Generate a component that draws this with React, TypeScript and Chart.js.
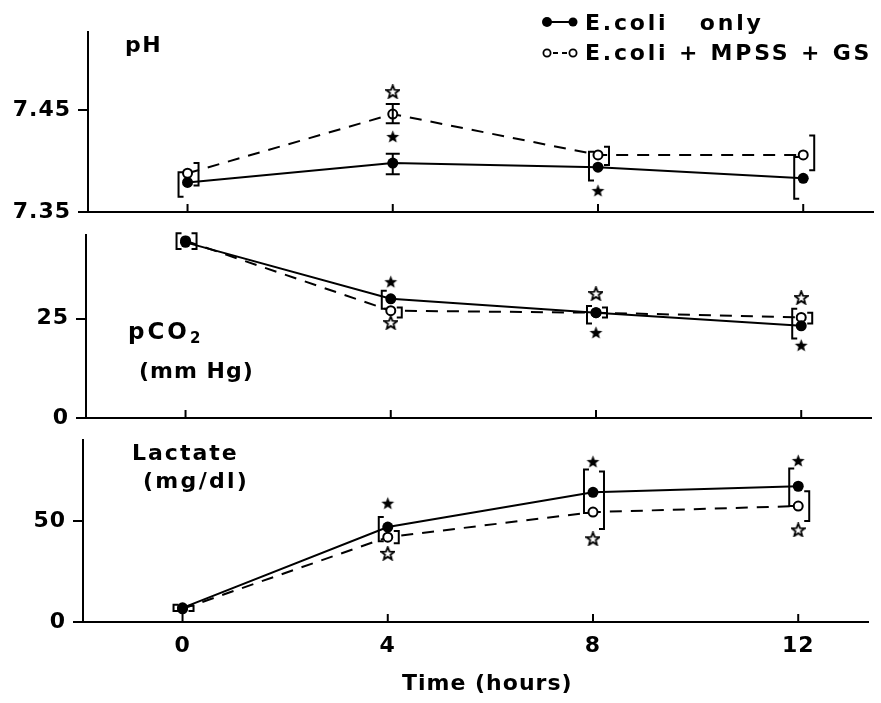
import { useEffect, useRef } from 'react';
import { Chart, registerables } from 'chart.js';

Chart.register(...registerables);

// ---------- data ----------
const hours = [0, 4, 8, 12];
const xTickValues = [0, 4, 8, 12];

const phTicks = [7.35, 7.45];
const phEcoli = [7.379, 7.398, 7.394, 7.383];
const phMpss = [7.388, 7.446, 7.406, 7.406];
const phEcoliLow = [7.365, 7.387, 7.381, 7.363];
const phEcoliHigh = [7.389, 7.407, 7.409, 7.404];
const phMpssLow = [7.376, 7.437, 7.396, 7.391];
const phMpssHigh = [7.398, 7.456, 7.414, 7.425];
const phStarEcoli = [null, 7.424, 7.371, null];
const phStarMpss = [null, 7.468, null, null];

const pco2Ticks = [0, 25];
const pco2Ecoli = [44.2, 30, 26.5, 23.2];
const pco2Mpss = [44.6, 27, 26.5, 25.3];
const pco2EcoliLow = [42.5, 27.5, 23.8, 20];
const pco2EcoliHigh = [46.5, 32, 28.2, 27.5];
const pco2MpssLow = [42.5, 25.3, 25.3, 23.8];
const pco2MpssHigh = [46.5, 27.8, 27.8, 26.5];
const pco2StarEcoli = [null, 34.3, 21.5, 18.3];
const pco2StarMpss = [null, 24, 31.3, 30.3];

const lacTicks = [0, 50];
const lacEcoli = [7, 47, 64.2, 67.2];
const lacMpss = [6.5, 42, 54.4, 57.4];
const lacEcoliLow = [5.5, 40, 54, 57.4];
const lacEcoliHigh = [8.5, 52, 75.5, 76];
const lacMpssLow = [5.5, 39, 46, 50];
const lacMpssHigh = [8, 45, 74.5, 64.7];
const lacStarEcoli = [null, 58.8, 79.4, 79.9];
const lacStarMpss = [null, 34, 41.2, 45.6];

// ---------- helpers ----------
const FONT = "'DejaVu Sans', sans-serif";

function makeStar(filled: boolean) {
  const c = document.createElement('canvas');
  c.width = 15;
  c.height = 15;
  const g = c.getContext('2d')!;
  g.beginPath();
  for (let i = 0; i < 10; i++) {
    const r = i % 2 === 0 ? 6.8 : 2.9;
    const a = -Math.PI / 2 + (i * Math.PI) / 5;
    const px = 7.5 + r * Math.cos(a);
    const py = 8 + r * Math.sin(a);
    if (i === 0) g.moveTo(px, py);
    else g.lineTo(px, py);
  }
  g.closePath();
  if (filled) {
    g.fillStyle = '#000';
    g.fill();
  } else {
    g.fillStyle = '#fff';
    g.fill();
    g.strokeStyle = '#000';
    g.lineWidth = 1.8;
    g.stroke();
  }
  return c;
}

const toPoints = (vals: (number | null)[]) =>
  hours
    .map((h, i) => ({ x: h, y: vals[i] }))
    .filter((p) => p.y !== null && p.y !== undefined);

const spacingPlugin = {
  id: 'spacing',
  beforeDraw(chart: any) {
    (chart.ctx as any).letterSpacing = '1px';
  },
};

const bracketPlugin = {
  id: 'brackets',
  afterDatasetsDraw(chart: any, _args: any, opts: any) {
    const { ctx } = chart;
    const x = chart.scales.x;
    const y = chart.scales.y;
    ctx.save();
    ctx.strokeStyle = '#000';
    ctx.lineWidth = 2;
    ctx.setLineDash([]);
    const draw = (lows: number[], highs: number[], side: number) => {
      hours.forEach((h, i) => {
        const lo = lows[i];
        const hi = highs[i];
        if (lo == null || hi == null) return;
        const px = x.getPixelForValue(h);
        const yl = y.getPixelForValue(lo);
        const yh = y.getPixelForValue(hi);
        ctx.beginPath();
        if (opts.caps.includes(i)) {
          ctx.moveTo(px, yl);
          ctx.lineTo(px, yh);
          ctx.moveTo(px - 7, yl);
          ctx.lineTo(px + 7, yl);
          ctx.moveTo(px - 7, yh);
          ctx.lineTo(px + 7, yh);
        } else {
          const bx = px + (side < 0 ? -9 : 11);
          const s = -side * 5;
          ctx.moveTo(bx + s, yh);
          ctx.lineTo(bx, yh);
          ctx.lineTo(bx, yl);
          ctx.lineTo(bx + s, yl);
        }
        ctx.stroke();
      });
    };
    draw(opts.aLow, opts.aHigh, -1);
    draw(opts.bLow, opts.bHigh, 1);
    xTickValues.forEach((v) => {
      const px = x.getPixelForValue(v);
      ctx.beginPath();
      ctx.moveTo(px, y.bottom);
      ctx.lineTo(px, y.bottom - 8);
      ctx.stroke();
    });
    if (opts.legend) {
      ctx.fillStyle = '#000';
      ctx.beginPath();
      ctx.arc(547, 22, 5, 0, Math.PI * 2);
      ctx.fill();
      ctx.beginPath();
      ctx.arc(573, 22, 4.5, 0, Math.PI * 2);
      ctx.fill();
      ctx.beginPath();
      ctx.moveTo(550, 22);
      ctx.lineTo(570, 22);
      ctx.stroke();
      ctx.lineWidth = 1.8;
      ctx.beginPath();
      ctx.arc(547, 53, 3.6, 0, Math.PI * 2);
      ctx.stroke();
      ctx.beginPath();
      ctx.arc(573, 53, 3.6, 0, Math.PI * 2);
      ctx.stroke();
      ctx.lineWidth = 2;
      ctx.beginPath();
      ctx.moveTo(553, 53);
      ctx.lineTo(558, 53);
      ctx.moveTo(562, 53);
      ctx.lineTo(567, 53);
      ctx.stroke();
    }
    ctx.restore();
  },
};

type PanelSpec = {
  left: number;
  top: number;
  height: number;
  padTop: number;
  xH: number;
  yMin: number;
  yMax: number;
  ticks: number[];
  digits: number;
  a: number[];
  b: number[];
  aLow: number[];
  aHigh: number[];
  bLow: number[];
  bHigh: number[];
  starA: (number | null)[];
  starB: (number | null)[];
  caps: number[];
  showX: boolean;
  legend: boolean;
};

const panels: PanelSpec[] = [
  {
    left: 0, top: 0, height: 245, padTop: 32, xH: 33,
    yMin: 7.35, yMax: 7.5265, ticks: phTicks, digits: 2,
    a: phEcoli, b: phMpss, aLow: phEcoliLow, aHigh: phEcoliHigh, bLow: phMpssLow, bHigh: phMpssHigh,
    starA: phStarEcoli, starB: phStarMpss, caps: [1], showX: false, legend: true,
  },
  {
    left: -2, top: 215, height: 230, padTop: 19, xH: 27,
    yMin: 0, yMax: 46, ticks: pco2Ticks, digits: 0,
    a: pco2Ecoli, b: pco2Mpss, aLow: pco2EcoliLow, aHigh: pco2EcoliHigh, bLow: pco2MpssLow, bHigh: pco2MpssHigh,
    starA: pco2StarEcoli, starB: pco2StarMpss, caps: [], showX: false, legend: false,
  },
  {
    left: -5, top: 420, height: 283, padTop: 18, xH: 81,
    yMin: 0, yMax: 90, ticks: lacTicks, digits: 0,
    a: lacEcoli, b: lacMpss, aLow: lacEcoliLow, aHigh: lacEcoliHigh, bLow: lacMpssLow, bHigh: lacMpssHigh,
    starA: lacStarEcoli, starB: lacStarMpss, caps: [], showX: true, legend: false,
  },
];

function buildChart(canvas: HTMLCanvasElement, p: PanelSpec) {
  const starFilled = makeStar(true);
  const starOpen = makeStar(false);
  const tickFont = { family: FONT, size: 22, weight: 'bold' as const };
  return new Chart(canvas, {
    type: 'line',
    data: {
      datasets: [
        {
          data: toPoints(p.a) as any,
          borderColor: '#000',
          borderWidth: 2,
          pointRadius: 5.5,
          pointBackgroundColor: '#000',
          pointBorderColor: '#000',
          pointBorderWidth: 0,
          tension: 0,
        },
        {
          data: toPoints(p.b) as any,
          borderColor: '#000',
          borderWidth: 2,
          borderDash: [12, 9],
          pointRadius: 4.5,
          pointBackgroundColor: '#fff',
          pointBorderColor: '#000',
          pointBorderWidth: 2,
          tension: 0,
        },
        {
          data: toPoints(p.starA) as any,
          showLine: false,
          pointStyle: starFilled as any,
          pointRadius: 7,
        },
        {
          data: toPoints(p.starB) as any,
          showLine: false,
          pointStyle: starOpen as any,
          pointRadius: 7,
        },
      ],
    },
    options: {
      animation: false,
      responsive: false,
      maintainAspectRatio: false,
      layout: { padding: { top: p.padTop, right: 5, left: 0, bottom: 0 } },
      plugins: {
        legend: { display: false },
        tooltip: { enabled: false },
        brackets: {
          aLow: p.aLow, aHigh: p.aHigh, bLow: p.bLow, bHigh: p.bHigh,
          caps: p.caps, legend: p.legend,
        },
      } as any,
      scales: {
        x: {
          type: 'linear',
          min: -1.94,
          max: 13.36,
          grid: { display: false, drawTicks: false },
          border: { display: true, color: '#000', width: 2 },
          ticks: {
            display: p.showX,
            color: '#000',
            font: tickFont,
            padding: 11,
            callback: (v: any) => String(v),
          },
          afterBuildTicks: (s: any) => {
            s.ticks = xTickValues.map((v) => ({ value: v }));
          },
          afterFit: (s: any) => {
            s.height = p.xH;
          },
        },
        y: {
          type: 'linear',
          min: p.yMin,
          max: p.yMax,
          grid: {
            drawOnChartArea: false,
            drawTicks: true,
            tickLength: 10,
            color: '#000',
            lineWidth: 2,
          },
          border: { display: true, color: '#000', width: 2 },
          ticks: {
            color: '#000',
            font: tickFont,
            padding: 7,
            callback: (v: any) => Number(v).toFixed(p.digits),
          },
          afterBuildTicks: (s: any) => {
            s.ticks = p.ticks.map((v) => ({ value: v }));
          },
          afterFit: (s: any) => {
            s.width = 88;
          },
        },
      },
    },
    plugins: [spacingPlugin, bracketPlugin],
  });
}

const textBase: React.CSSProperties = {
  position: 'absolute',
  fontFamily: FONT,
  fontWeight: 'bold',
  color: '#000',
  whiteSpace: 'pre',
  lineHeight: 1,
};

export default function App() {
  const r0 = useRef<HTMLCanvasElement>(null);
  const r1 = useRef<HTMLCanvasElement>(null);
  const r2 = useRef<HTMLCanvasElement>(null);
  const refs = [r0, r1, r2];

  useEffect(() => {
    const charts = panels.map((p, i) => buildChart(refs[i].current!, p));
    return () => charts.forEach((c) => c.destroy());
  }, []);

  return (
    <div style={{ position: 'absolute', left: 0, top: 0, width: 881, height: 703, background: '#fff', overflow: 'hidden' }}>
      {panels.map((p, i) => (
        <canvas
          key={i}
          ref={refs[i]}
          width={881}
          height={p.height}
          style={{ position: 'absolute', left: p.left, top: p.top, width: 881, height: p.height, display: 'block' }}
        />
      ))}
      <div style={{ ...textBase, left: 585, top: 12, fontSize: 22, letterSpacing: '2.8px' }}>{'E.coli   only'}</div>
      <div style={{ ...textBase, left: 585, top: 42, fontSize: 22, letterSpacing: '2.8px' }}>{'E.coli + MPSS + GS'}</div>
      <div style={{ ...textBase, left: 125, top: 34, fontSize: 22, letterSpacing: '1.5px' }}>pH</div>
      <div style={{ ...textBase, left: 128, top: 320, fontSize: 23, letterSpacing: '3px' }}>
        pCO<span style={{ fontSize: 15, position: 'relative', top: 4 }}>2</span>
      </div>
      <div style={{ ...textBase, left: 139, top: 360, fontSize: 22, letterSpacing: '1px' }}>(mm Hg)</div>
      <div style={{ ...textBase, left: 132, top: 442, fontSize: 22, letterSpacing: '2px' }}>Lactate</div>
      <div style={{ ...textBase, left: 143, top: 470, fontSize: 22, letterSpacing: '2.3px' }}>(mg/dl)</div>
      <div style={{ ...textBase, left: 402, top: 672, fontSize: 22, letterSpacing: '1px' }}>Time (hours)</div>
    </div>
  );
}
